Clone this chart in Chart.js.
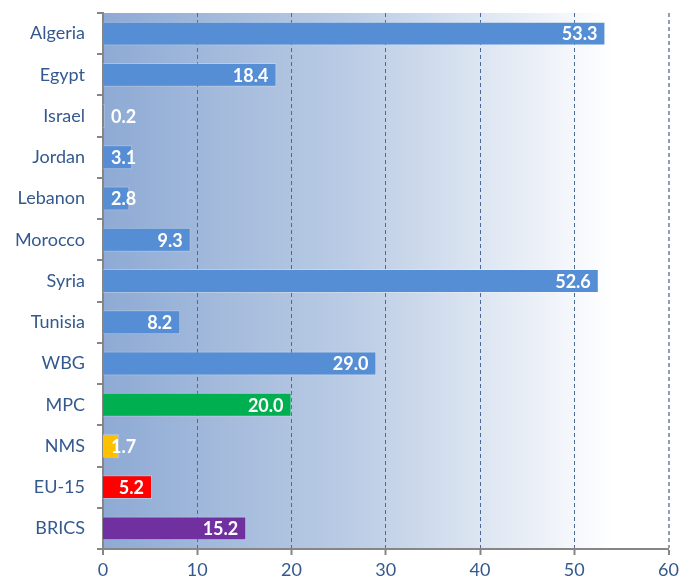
<!DOCTYPE html>
<html>
<head>
<meta charset="utf-8">
<script src="https://cdn.jsdelivr.net/npm/chart.js@4/dist/chart.umd.min.js"></script>
<style>
    body { margin: 0; background: #ffffff; }
    #wrap { width: 683px; height: 588px; }
</style>
</head>
<body>
<div id="wrap"><canvas id="grafica"></canvas></div>
<script>
// datos
const paises = ['Algeria', 'Egypt', 'Israel', 'Jordan', 'Lebanon', 'Morocco', 'Syria', 'Tunisia', 'WBG', 'MPC', 'NMS', 'EU-15', 'BRICS'];
const valores = [53.3, 18.4, 0.2, 3.1, 2.8, 9.3, 52.6, 8.2, 29.0, 20.0, 1.7, 5.2, 15.2];
const colores = ['#558ed5', '#558ed5', '#558ed5', '#558ed5', '#558ed5', '#558ed5', '#558ed5', '#558ed5', '#558ed5',
                 '#00b050', '#ffc000', '#ff0000', '#7030a0'];
const ticksX = [0, 10, 20, 30, 40, 50, 60];

const colorTexto = '#34598f';
const colorEje = '#868686';

// fondo degradado del area del grafico
const fondo = {
    id: 'fondo',
    beforeDraw(chart) {
        const { ctx, chartArea: a } = chart;
        const g = ctx.createLinearGradient(a.left, 0, a.right, 0);
        g.addColorStop(0, '#8eaad4');
        g.addColorStop(0.45, '#bccde5');
        g.addColorStop(0.9, '#ffffff');
        g.addColorStop(1, '#ffffff');
        ctx.save();
        ctx.fillStyle = g;
        ctx.fillRect(a.left, a.top, a.right - a.left, a.bottom - a.top);
        ctx.restore();
    }
};

// etiquetas de valor dentro del extremo de la barra
const etiquetas = {
    id: 'etiquetas',
    afterDatasetsDraw(chart) {
        const { ctx } = chart;
        const meta = chart.getDatasetMeta(0);
        ctx.save();
        ctx.font = 'bold 18px Lato';
        ctx.fillStyle = '#ffffff';
        ctx.textBaseline = 'middle';
        ctx.textAlign = 'left';
        meta.data.forEach((bar, i) => {
            const txt = valores[i].toFixed(1);
            const w = ctx.measureText(txt).width;
            let x = bar.x - 8 - w;
            if (x < bar.base + 8) x = bar.base + 8;
            ctx.fillText(txt, x, bar.y + 1);
        });
        ctx.restore();
    }
};

const ctx = document.getElementById('grafica');
const miGrafica = new Chart(ctx, {
    type: 'bar',
    data: {
        labels: paises,
        datasets: [{
            data: valores,
            backgroundColor: colores,
            borderColor: 'rgba(255, 255, 255, 0.25)',
            borderWidth: 1,
            barPercentage: 0.58,
            categoryPercentage: 1
        }]
    },
    options: {
        indexAxis: 'y',
        responsive: true,
        maintainAspectRatio: false,
        animation: false,
        layout: { padding: { top: 13, right: 11, left: 0, bottom: 0 } },
        plugins: {
            legend: { display: false },
            tooltip: { enabled: false }
        },
        scales: {
            x: {
                min: 0,
                max: 60,
                afterBuildTicks: (axis) => { axis.ticks = ticksX.map(v => ({ value: v })); },
                afterFit: (axis) => { axis.height = 39; },
                ticks: {
                    color: colorTexto,
                    font: { family: 'Lato', size: 18 },
                    padding: 4
                },
                grid: {
                    color: (c) => c.tick && c.tick.value === 60 ? '#8d9fb8' : '#4a6b9a',
                    lineWidth: (c) => c.tick && c.tick.value === 0 ? 0 : (c.tick && c.tick.value === 60 ? 2 : 1),
                    tickColor: colorEje,
                    tickWidth: 2,
                    tickBorderDash: [],
                    tickLength: 6
                },
                border: { color: colorEje, width: 2, dash: [4, 3] }
            },
            y: {
                afterFit: (axis) => {
                    axis.width = 103;
                    axis.paddingTop = 0;
                    axis.paddingBottom = 0;
                },
                ticks: {
                    color: colorTexto,
                    font: { family: 'Lato', size: 18 },
                    padding: 12
                },
                grid: {
                    offset: true,
                    drawOnChartArea: false,
                    color: colorEje,
                    lineWidth: 2,
                    tickLength: 6
                },
                border: { color: colorEje, width: 2 }
            }
        }
    },
    plugins: [fondo, etiquetas]
});
</script>
</body>
</html>
